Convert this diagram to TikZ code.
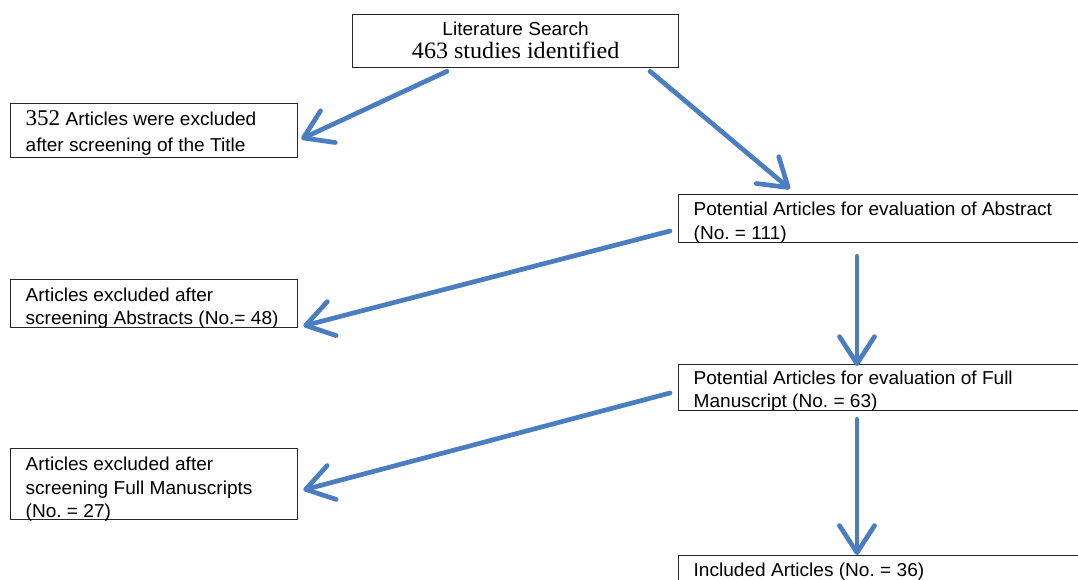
\documentclass[tikz,border=0pt]{standalone}
\usepackage{fontspec}
\setmainfont[FakeStretch=1.02]{Liberation Sans}
\newfontfamily\serifnum[FakeStretch=1.025]{Liberation Serif}
\usetikzlibrary{arrows.meta,calc}
\definecolor{arrowblue}{RGB}{74,126,193}
\definecolor{boxline}{RGB}{40,40,40}
\frenchspacing
% #1 box height, #2 text width, #3 first baseline from top, #4 line pitch, #5 text
\newcommand{\bxtext}[5]{\parbox[c][#1][t]{#2}{\fontsize{18.7}{#4}\selectfont\frenchspacing\raggedright
  \prevdepth=0pt\vskip\dimexpr#3-#4\relax\prevdepth=0pt\noindent#5}}
\newcommand{\bxcenter}[5]{\parbox[c][#1][t]{#2}{\fontsize{18.7}{#4}\selectfont\frenchspacing\centering
  \prevdepth=0pt\vskip\dimexpr#3-#4\relax\prevdepth=0pt #5}}
\begin{document}
\begin{tikzpicture}[x=1pt,y=-1pt,
  box/.style={draw=boxline,line width=1.3pt,anchor=north west,inner xsep=15pt,inner ysep=0pt},
  flow/.style={draw=arrowblue,line width=4.7pt,line cap=round,
    -{Straight Barb[length=27pt,width=35pt,line width=4.7pt,round]}}]
\useasboundingbox (0,0) rectangle (1078,580);
\fill[white] (0,0) rectangle (1078,580);
\node[box,inner xsep=0pt] (top) at (352,14)
  {\bxcenter{53pt}{326pt}{20.5pt}{23pt}{Literature Search\\{\serifnum\fontsize{23.5}{23pt}\selectfont 463 studies identified}}};
\node[box] (b2) at (10,103)
  {\bxtext{54pt}{257pt}{22pt}{26pt}{{\serifnum\fontsize{22.5}{26pt}\selectfont 352} Articles were excluded\\after screening of the Title}};
\node[box] (b3) at (678,194)
  {\bxtext{48pt}{420pt}{21pt}{24pt}{Potential Articles for evaluation of Abstract\\(No. = 111)}};
\node[box] (b4) at (10,279)
  {\bxtext{48pt}{257pt}{21.5pt}{23.5pt}{Articles excluded after\\screening Abstracts (No.= 48)}};
\node[box] (b5) at (678,364)
  {\bxtext{46pt}{420pt}{20pt}{23pt}{Potential Articles for evaluation of Full\\Manuscript (No. = 63)}};
\node[box] (b6) at (10,448)
  {\bxtext{71pt}{257pt}{22pt}{23.5pt}{Articles excluded after\\screening Full Manuscripts\\(No. = 27)}};
\node[box] (b7) at (678,555)
  {\bxtext{40pt}{420pt}{21pt}{21pt}{Included Articles (No. = 36)}};
\draw[flow] ($(top.south west)+(95,3)$) -- ($(b2.north east)+(3,36)$);
\draw[flow] ($(top.south west)+(298,3)$) -- ($(b3.north west)+(112,-5)$);
\draw[flow] ($(b3.north west)+(-8,37)$) -- ($(b4.north east)+(5,47)$);
\draw[flow] ($(b3.south west)+(179,13)$) -- ($(b5.north west)+(179,2)$);
\draw[flow] ($(b5.north west)+(-8,29)$) -- ($(b6.north east)+(5,42)$);
\draw[flow] ($(b5.south west)+(179,8)$) -- ($(b7.north west)+(179,0)$);
\end{tikzpicture}
\end{document}
